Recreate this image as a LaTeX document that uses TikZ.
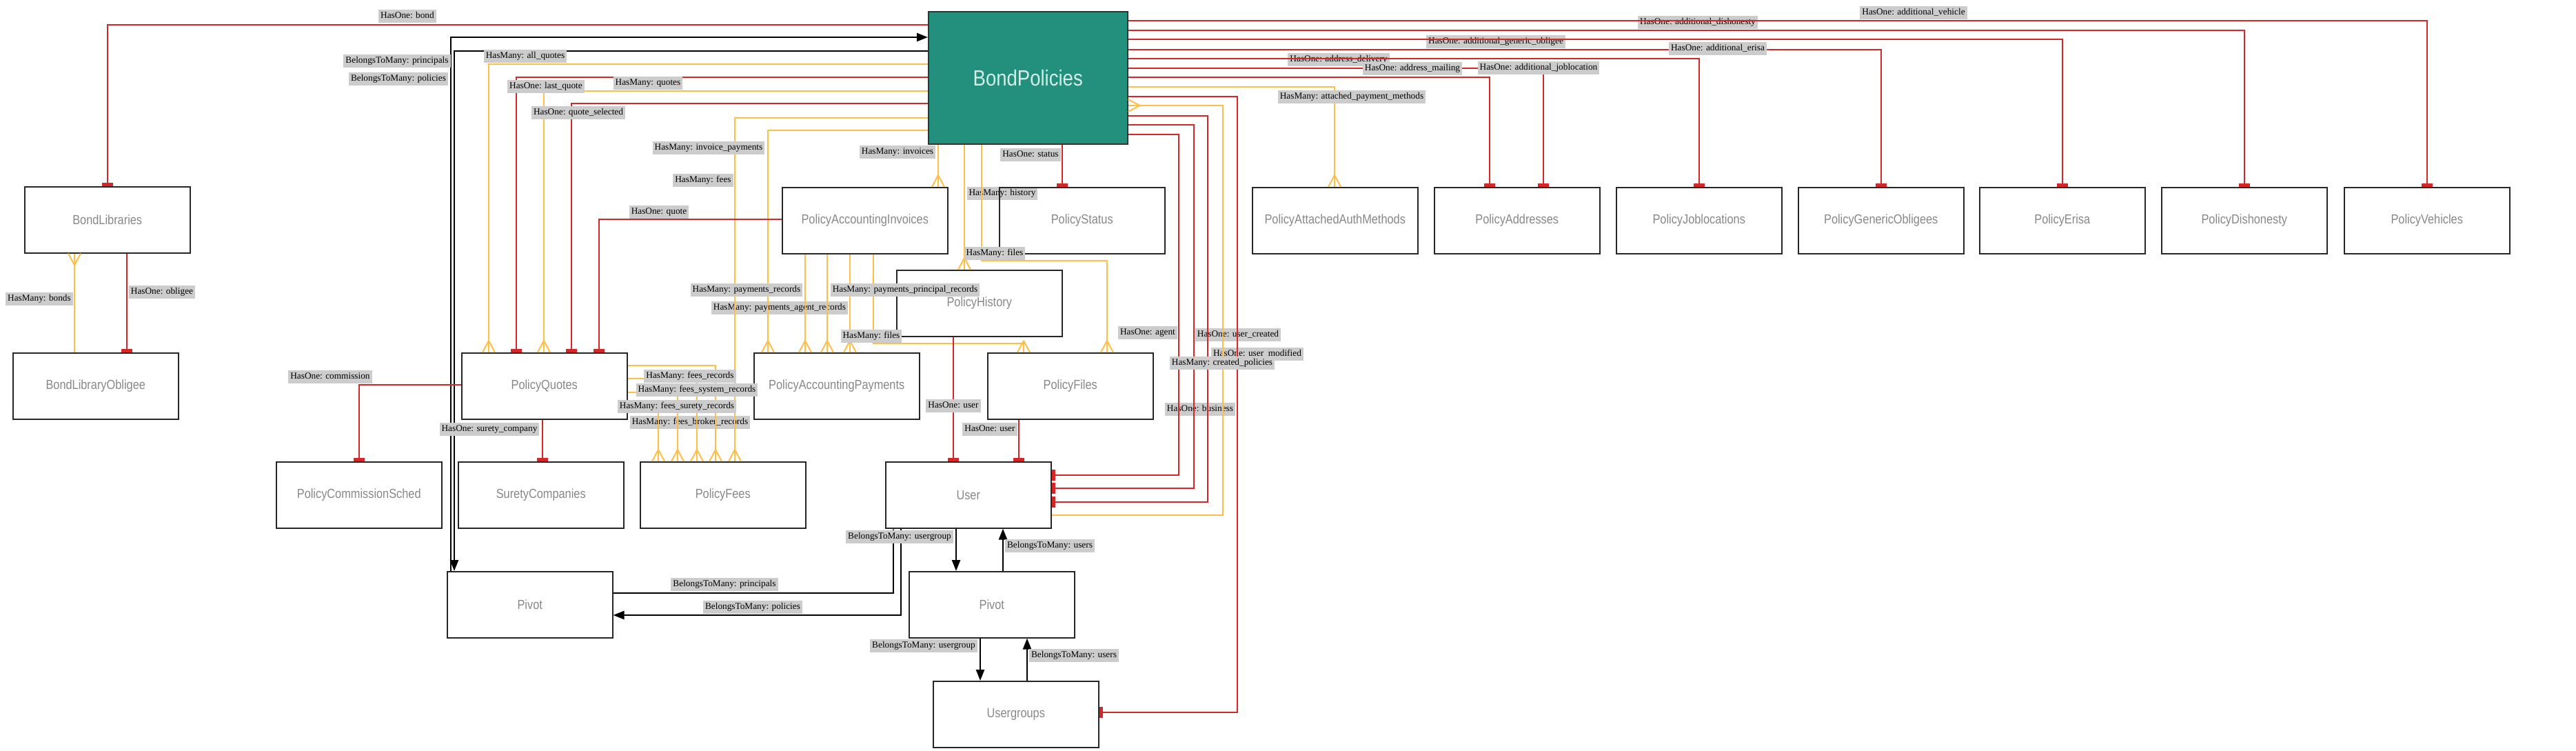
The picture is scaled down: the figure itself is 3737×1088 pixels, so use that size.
\documentclass[tikz,border=0pt]{standalone}
\usepackage{fontspec}
\setmainfont{Liberation Serif}
\newfontfamily\entfont{Liberation Sans}[FakeStretch=0.86]
\usetikzlibrary{arrows.meta}
\definecolor{hred}{RGB}{214,39,40}
\definecolor{horange}{RGB}{255,190,70}
\definecolor{bpteal}{RGB}{34,144,124}
\definecolor{lblgray}{RGB}{204,204,204}
\definecolor{enttext}{RGB}{135,135,135}
\definecolor{bptext}{RGB}{212,236,230}
\pgfdeclarearrow{
  name = Crow,
  parameters = {\the\pgfarrowlength,\the\pgfarrowwidth},
  setup code = {
    \pgfarrowssettipend{0pt}
    \pgfarrowssetlineend{0pt}
    \pgfarrowssetbackend{-\pgfarrowlength}
    \pgfarrowshullpoint{0pt}{.5\pgfarrowwidth}
    \pgfarrowshullpoint{0pt}{-.5\pgfarrowwidth}
    \pgfarrowshullpoint{-\pgfarrowlength}{0pt}
    \pgfarrowssavethe\pgfarrowlength
    \pgfarrowssavethe\pgfarrowwidth
  },
  drawing code = {
    \pgfsetdash{}{0pt}
    \pgfpathmoveto{\pgfqpoint{-\pgfarrowlength}{0pt}}
    \pgfpathlineto{\pgfqpoint{0pt}{.5\pgfarrowwidth}}
    \pgfpathmoveto{\pgfqpoint{-\pgfarrowlength}{0pt}}
    \pgfpathlineto{\pgfqpoint{0pt}{-.5\pgfarrowwidth}}
    \pgfusepathqstroke
  },
  defaults = {length=17pt, width=18pt}
}
\tikzset{
  ent/.style={draw=black!85, line width=1.5pt, minimum width=240pt, minimum height=96pt,
    inner sep=0pt, anchor=north west, text=enttext, font=\entfont\fontsize{19}{21}\selectfont},
  bpnode/.style={draw=black!80, line width=1.5pt, fill=bpteal, minimum width=289pt, minimum height=192pt,
    inner sep=0pt, anchor=north west, text=bptext, font=\entfont\fontsize{32}{34}\selectfont},
  lbl/.style={fill=lblgray, inner xsep=3pt, inner ysep=2.5pt, text height=10.5pt, text depth=3.5pt,
    font=\fontsize{13.3}{14}\selectfont, text=black},
  hasone/.style={draw=hred, line width=2.2pt, -{Rectangle[length=5pt,width=16pt]}},
  hasmany/.style={draw=horange, line width=2pt, -{Crow[length=17pt,width=18pt]}},
  btm/.style={draw=black, line width=2.5pt, -{Triangle[length=16pt,width=12pt]}},
  btmsmall/.style={draw=black, line width=2.5pt, -{Triangle[length=6pt,width=5pt]}},
}
\begin{document}
\begin{tikzpicture}[x=1pt,y=-1pt]
\useasboundingbox (0,0) rectangle (3737,1088);

% ---- labels drawn beneath the connectors
\node[lbl] (lAddrDel) at (1942,86) {HasOne: address\_delivery};
\node[lbl] (lDish) at (2463,32) {HasOne: additional\_dishonesty};
\node[lbl] (lGenOb) at (2170,60) {HasOne: additional\_generic\_obligee};
\node[lbl] (lUCreated) at (1796,485) {HasOne: user\_created};
\node[lbl] (lUModified) at (1824,513) {HasOne: user\_modified};
\node[lbl] (lBusiness) at (1741,593) {HasOne: business};
\node[lbl] (lHistory) at (1454,280) {HasMany: history};
\node[lbl] (lFeesBroker) at (1001,612) {HasMany: fees\_broker\_records};
\node[lbl] (lPayAgent) at (1131,446) {HasMany: payments\_agent\_records};

% ---- nodes
\node[bpnode] (BP) at (1346,16) {BondPolicies};
\node[ent] (BL) at (35,270) {BondLibraries};
\node[ent] (BLO) at (18,511) {BondLibraryObligee};
\node[ent] (PQ) at (669,511) {PolicyQuotes};
\node[ent] (PCS) at (400,669) {PolicyCommissionSched};
\node[ent] (SC) at (664,669) {SuretyCompanies};
\node[ent] (PF) at (928,669) {PolicyFees};
\node[ent] (PAP) at (1093,511) {PolicyAccountingPayments};
\node[ent] (US) at (1284,669) {User};
\node[ent] (PFI) at (1432,511) {PolicyFiles};
\node[ent] (PH) at (1300,391) {PolicyHistory};
\node[ent] (PAI) at (1134,271) {PolicyAccountingInvoices};
\node[ent] (PS) at (1449,271) {PolicyStatus};
\node[ent] (PAAM) at (1816,271) {PolicyAttachedAuthMethods};
\node[ent] (PAD) at (2080,271) {PolicyAddresses};
\node[ent] (PJ) at (2344,271) {PolicyJoblocations};
\node[ent] (PGO) at (2608,271) {PolicyGenericObligees};
\node[ent] (PE) at (2871,271) {PolicyErisa};
\node[ent] (PD) at (3135,271) {PolicyDishonesty};
\node[ent] (PV) at (3400,271) {PolicyVehicles};
\node[ent] (PV1) at (648,828) {Pivot};
\node[ent] (PV2) at (1318,828) {Pivot};
\node[ent] (UG) at (1353,987) {Usergroups};

% ---- connectors: left side of BondPolicies
\draw[hasone] (BP.west |- 0,36) -| (BL.north);
\draw[btm] (PV1.north -| 654,0) |- (BP.west |- 0,54);
\draw[btm] (BP.west |- 0,74) -| (PV1.north -| 659,0);
\draw[hasmany] (BP.west |- 0,93) -| (PQ.north -| 709,0);
\draw[hasone] (BP.west |- 0,112) -| (PQ.north -| 749,0);
\draw[hasmany] (BP.west |- 0,132) -| (PQ.north -| 789,0);
\draw[hasone] (BP.west |- 0,150) -| (PQ.north -| 829,0);
\draw[hasmany] (BP.west |- 0,171) -| (PF.north -| 1066,0);
\draw[hasmany] (BP.west |- 0,189) -| (PAP.north -| 1114,0);
% bottom of BondPolicies
\draw[hasmany] (BP.south -| 1361,0) -- (PAI.north -| 1361,0);
\draw[hasmany] (BP.south -| 1399,0) -- (PH.north -| 1399,0);
\draw[hasmany] (BP.south -| 1424,0) -- (1424,378) -| (PFI.north -| 1606,0);
\draw[hasone] (BP.south -| 1541,0) -- (PS.north -| 1541,0);
% invoices
\draw[hasone] (PAI.west |- 0,318) -| (PQ.north -| 869,0);
\draw[hasmany] (PAI.south -| 1168,0) -- (PAP.north -| 1168,0);
\draw[hasmany] (PAI.south -| 1200,0) -- (PAP.north -| 1200,0);
\draw[hasmany] (PAI.south -| 1233,0) -- (PAP.north -| 1233,0);
\draw[hasmany] (PAI.south -| 1267,0) -- (1267,498) -| (PFI.north -| 1485,0);
% history, files -> user
\draw[hasone] (PH.south -| 1383,0) -- (US.north -| 1383,0);
\draw[hasone] (PFI.south -| 1478,0) -- (US.north -| 1478,0);
% quotes
\draw[hasone] (PQ.west |- 0,558) -| (PCS.north);
\draw[hasone] (PQ.south -| 787,0) -- (SC.north -| 787,0);
\draw[hasmany] (PQ.east |- 0,530) -| (PF.north -| 1038,0);
\draw[hasmany] (PQ.east |- 0,549) -| (PF.north -| 1011,0);
\draw[hasmany] (PQ.east |- 0,569) -| (PF.north -| 983,0);
\draw[hasmany] (PQ.east |- 0,589) -| (PF.north -| 955,0);
% bond libraries
\draw[hasmany] (BLO.north -| 108,0) -- (BL.south -| 108,0);
\draw[hasone] (BL.south -| 184,0) -- (BLO.north -| 184,0);
% right side of BondPolicies
\draw[hasone] (BP.east |- 0,195) -| (1710,689) -- (US.east |- 0,689);
\draw[hasone] (BP.east |- 0,181) -| (1732,708) -- (US.east |- 0,708);
\draw[hasone] (BP.east |- 0,168) -| (1752,728) -- (US.east |- 0,728);
\draw[hasmany] (US.east |- 0,747) -| (1774,153) -- (BP.east |- 0,153);
\draw[hasone] (BP.east |- 0,140) -| (1795,1033) -- (UG.east |- 0,1033);
\draw[hasmany] (BP.east |- 0,126) -| (PAAM.north -| 1936,0);
\draw[hasone] (BP.east |- 0,112) -| (PAD.north -| 2161,0);
\draw[hasone] (BP.east |- 0,99) -| (PAD.north -| 2239,0);
\draw[hasone] (BP.east |- 0,85) -| (PJ.north);
\draw[hasone] (BP.east |- 0,72) -| (PGO.north);
\draw[hasone] (BP.east |- 0,57) -| (PE.north);
\draw[hasone] (BP.east |- 0,44) -| (PD.north);
\draw[hasone] (BP.east |- 0,30) -| (PV.north);
% pivots
\draw[btmsmall] (PV1.east |- 0,860) -| (US.south -| 1296,0);
\draw[btm] (US.south -| 1307,0) |- (PV1.east |- 0,892);
\draw[btm] (US.south -| 1387,0) -- (PV2.north -| 1387,0);
\draw[btm] (PV2.north -| 1455,0) -- (US.south -| 1455,0);
\draw[btm] (PV2.south -| 1422,0) -- (UG.north -| 1422,0);
\draw[btm] (UG.north -| 1490,0) -- (PV2.south -| 1490,0);

% ---- labels drawn on top
\node[lbl] (lBond) at (591,23) {HasOne: bond};
\node[lbl] (lPrinc1) at (576,88) {BelongsToMany: principals};
\node[lbl] (lPol1) at (578,114) {BelongsToMany: policies};
\node[lbl] (lAllQ) at (762,81) {HasMany: all\_quotes};
\node[lbl] (lLastQ) at (792,125) {HasOne: last\_quote};
\node[lbl] (lQuotes) at (940,120) {HasMany: quotes};
\node[lbl] (lQSel) at (839,163) {HasOne: quote\_selected};
\node[lbl] (lInvPay) at (1028,214) {HasMany: invoice\_payments};
\node[lbl] (lFees) at (1020,261) {HasMany: fees};
\node[lbl] (lQuote) at (956,307) {HasOne: quote};
\node[lbl] (lInvoices) at (1302,220) {HasMany: invoices};
\node[lbl] (lStatus) at (1495,224) {HasOne: status};
\node[lbl] (lFiles1) at (1443,367) {HasMany: files};
\node[lbl] (lPayRec) at (1083,420) {HasMany: payments\_records};
\node[lbl] (lPayPrinc) at (1313,420) {HasMany: payments\_principal\_records};
\node[lbl] (lFiles2) at (1264,487) {HasMany: files};
\node[lbl] (lComm) at (479,546) {HasOne: commission};
\node[lbl] (lSurety) at (710,622) {HasOne: surety\_company};
\node[lbl] (lFeesRec) at (1001,545) {HasMany: fees\_records};
\node[lbl] (lFeesSys) at (1011,565) {HasMany: fees\_system\_records};
\node[lbl] (lFeesSur) at (982,589) {HasMany: fees\_surety\_records};
\node[lbl] (lUser1) at (1383,588) {HasOne: user};
\node[lbl] (lUser2) at (1436,622) {HasOne: user};
\node[lbl] (lAgent) at (1665,482) {HasOne: agent};
\node[lbl] (lCreatedPol) at (1773,526) {HasMany: created\_policies};
\node[lbl] (lUg1) at (1305,778) {BelongsToMany: usergroup};
\node[lbl] (lUsers1) at (1523,791) {BelongsToMany: users};
\node[lbl] (lUg2) at (1340,936) {BelongsToMany: usergroup};
\node[lbl] (lUsers2) at (1558,950) {BelongsToMany: users};
\node[lbl] (lPrinc2) at (1051,847) {BelongsToMany: principals};
\node[lbl] (lPol2) at (1092,880) {BelongsToMany: policies};
\node[lbl] (lObligee) at (235,423) {HasOne: obligee};
\node[lbl] (lBonds) at (57,433) {HasMany: bonds};
\node[lbl] (lAttached) at (1961,140) {HasMany: attached\_payment\_methods};
\node[lbl] (lVehicle) at (2776,18) {HasOne: additional\_vehicle};
\node[lbl] (lErisa) at (2492,70) {HasOne: additional\_erisa};
\node[lbl] (lMailing) at (2049,99) {HasOne: address\_mailing};
\node[lbl] (lJobloc) at (2232,98) {HasOne: additional\_joblocation};
\end{tikzpicture}
\end{document}
